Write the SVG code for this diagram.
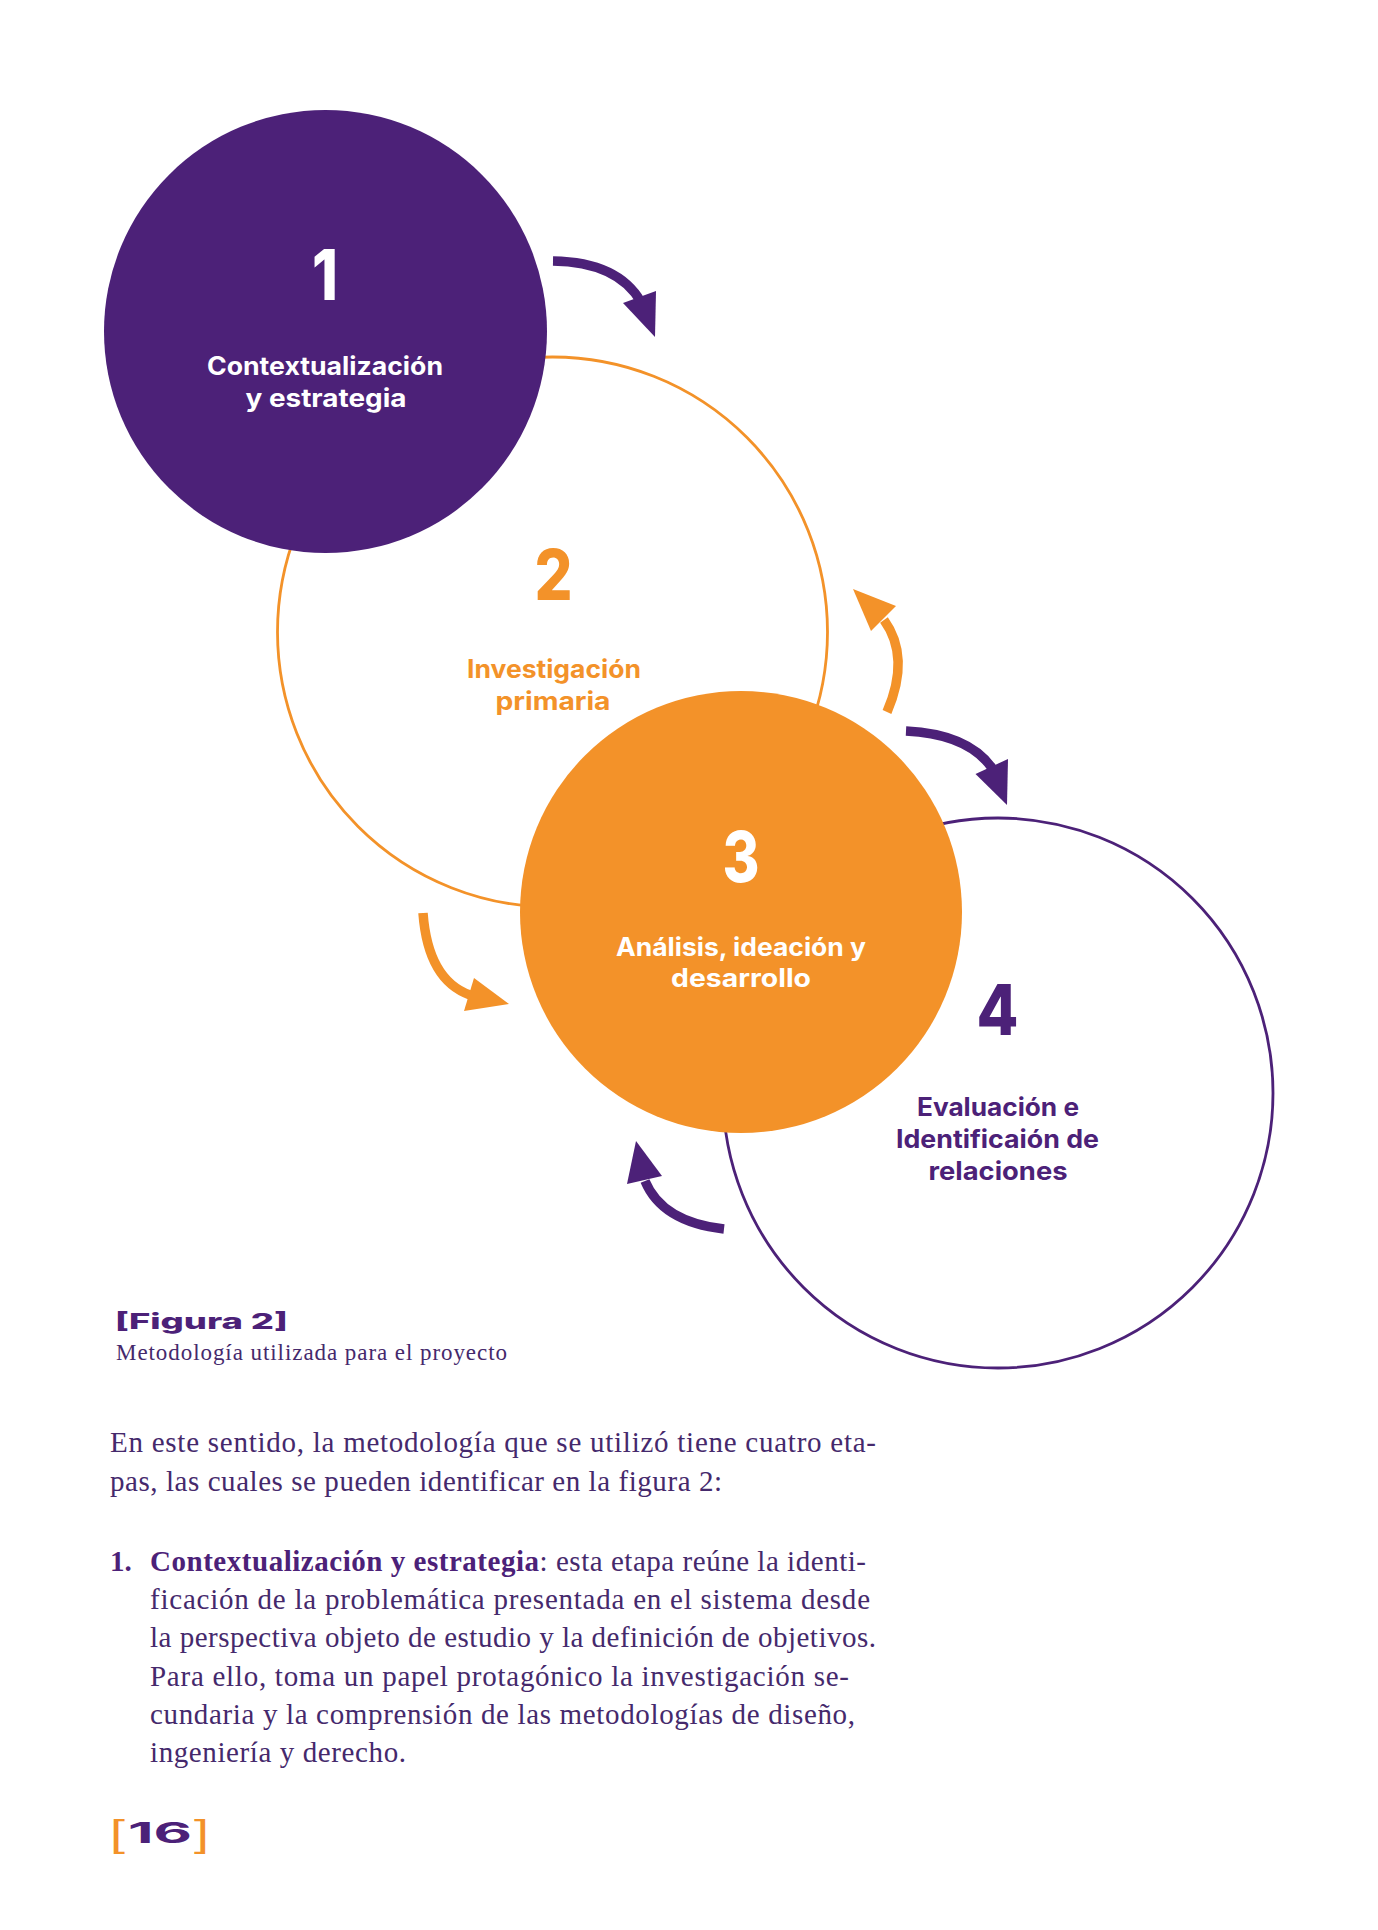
<svg xmlns="http://www.w3.org/2000/svg" width="1378" height="1930" viewBox="0 0 1378 1930">
<style>
.bg{fill:#ffffff}
.pfill{fill:#4c2178}
.ofill{fill:#f39229}
.pring{fill:none;stroke:#4c2178;stroke-width:2.8}
.oring{fill:none;stroke:#f39229;stroke-width:2.8}
.parc{fill:none;stroke:#4c2178;stroke-width:9.5}
.oarc{fill:none;stroke:#f39229;stroke-width:9.5}
.num{font-family:Inter,"Liberation Sans",sans-serif;font-weight:800;font-size:70px;text-anchor:middle}
.lbl{font-family:Inter,"Liberation Sans",sans-serif;font-weight:700;font-size:25px;text-anchor:middle}
.w{fill:#ffffff}
.o{fill:#f39229}
.p{fill:#4c2178}
.body{font-family:"Liberation Serif",serif;font-size:29px;fill:#45296c}
.bold{font-weight:700;fill:#4c2178}
.cap{font-family:Inter,"Liberation Sans",sans-serif;font-weight:800;font-size:22px;fill:#4c2178}
.capsub{font-family:"Liberation Serif",serif;font-size:23px;fill:#45296c}
</style>
<rect class="bg" x="0" y="0" width="1378" height="1930"/>

<g id="node2">
  <circle class="oring" cx="552.5" cy="632" r="275"/>
</g>
<g id="node4">
  <circle class="pring" cx="998" cy="1093" r="275"/>
</g>
<g id="node1">
  <circle class="pfill" cx="325.5" cy="331.5" r="221.5"/>
</g>
<g id="node3">
  <circle class="ofill" cx="741" cy="912" r="221"/>
</g>

<g id="labels1">
  <text class="num w" x="325" y="300" textLength="26" lengthAdjust="spacingAndGlyphs">1</text>
  <text class="lbl w" x="325" y="375" textLength="236" lengthAdjust="spacingAndGlyphs">Contextualización</text>
  <text class="lbl w" x="326" y="407" textLength="161" lengthAdjust="spacingAndGlyphs">y estrategia</text>
</g>
<g id="labels2">
  <text class="num o" x="553.5" y="600" textLength="38" lengthAdjust="spacingAndGlyphs">2</text>
  <text class="lbl o" x="554" y="678" textLength="174" lengthAdjust="spacingAndGlyphs">Investigación</text>
  <text class="lbl o" x="553" y="710" textLength="115" lengthAdjust="spacingAndGlyphs">primaria</text>
</g>
<g id="labels3">
  <text class="num w" x="741" y="882" textLength="37" lengthAdjust="spacingAndGlyphs">3</text>
  <text class="lbl w" x="741" y="956" textLength="250" lengthAdjust="spacingAndGlyphs">Análisis, ideación y</text>
  <text class="lbl w" x="741" y="987" textLength="140" lengthAdjust="spacingAndGlyphs">desarrollo</text>
</g>
<g id="labels4">
  <text class="num p" x="997.5" y="1035" textLength="42" lengthAdjust="spacingAndGlyphs">4</text>
  <text class="lbl p" x="998" y="1116" textLength="162" lengthAdjust="spacingAndGlyphs">Evaluación e</text>
  <text class="lbl p" x="997.5" y="1148" textLength="203" lengthAdjust="spacingAndGlyphs">Identificaión de</text>
  <text class="lbl p" x="998" y="1180" textLength="139" lengthAdjust="spacingAndGlyphs">relaciones</text>
</g>

<g id="connectors">
  <path class="parc" d="M553,261 Q618,262 641,302"/>
  <polygon class="pfill" points="623,303 656,291 655,337"/>
  <path class="oarc" d="M887,712 C903,675 902,645 884,620"/>
  <polygon class="ofill" points="853,589 896,606 871,631"/>
  <path class="parc" d="M906,731 Q968,734 992,768"/>
  <polygon class="pfill" points="975.5,774 1008,759 1007,805"/>
  <path class="oarc" d="M423,913 Q428,980 470,995"/>
  <polygon class="ofill" points="474,978 464,1011 509,1004"/>
  <path class="parc" d="M724,1229 Q662,1222 645,1181"/>
  <polygon class="pfill" points="627,1184 662,1176 636,1141"/>
</g>

<g id="caption">
  <text class="cap" x="115" y="1329" textLength="173" lengthAdjust="spacingAndGlyphs">[Figura 2]</text>
  <text class="capsub" x="116" y="1360" textLength="391">Metodología utilizada para el proyecto</text>
</g>

<g id="bodytext">
  <text class="body" x="110" y="1452" textLength="766">En este sentido, la metodología que se utilizó tiene cuatro eta-</text>
  <text class="body" x="110" y="1491" textLength="612">pas, las cuales se pueden identificar en la figura 2:</text>
  <text class="body bold" x="110" y="1571">1.</text>
  <text class="body" x="150" y="1571" textLength="716"><tspan class="bold">Contextualización y estrategia</tspan>: esta etapa reúne la identi-</text>
  <text class="body" x="150" y="1609" textLength="720">ficación de la problemática presentada en el sistema desde</text>
  <text class="body" x="150" y="1647" textLength="726">la perspectiva objeto de estudio y la definición de objetivos.</text>
  <text class="body" x="150" y="1686" textLength="699">Para ello, toma un papel protagónico la investigación se-</text>
  <text class="body" x="150" y="1724" textLength="705">cundaria y la comprensión de las metodologías de diseño,</text>
  <text class="body" x="150" y="1762" textLength="256">ingeniería y derecho.</text>
</g>

<g id="pagenum">
  <text x="110" y="1846" font-family="Liberation Sans, sans-serif" font-size="36" font-weight="300" fill="#f39229" textLength="15" lengthAdjust="spacingAndGlyphs">[</text>
  <text x="128" y="1843" font-family="Inter, Liberation Sans, sans-serif" font-size="28" font-weight="700" fill="#4c2178" textLength="64" lengthAdjust="spacingAndGlyphs">16</text>
  <text x="194" y="1846" font-family="Liberation Sans, sans-serif" font-size="36" font-weight="300" fill="#f39229" textLength="15" lengthAdjust="spacingAndGlyphs">]</text>
</g>
</svg>
